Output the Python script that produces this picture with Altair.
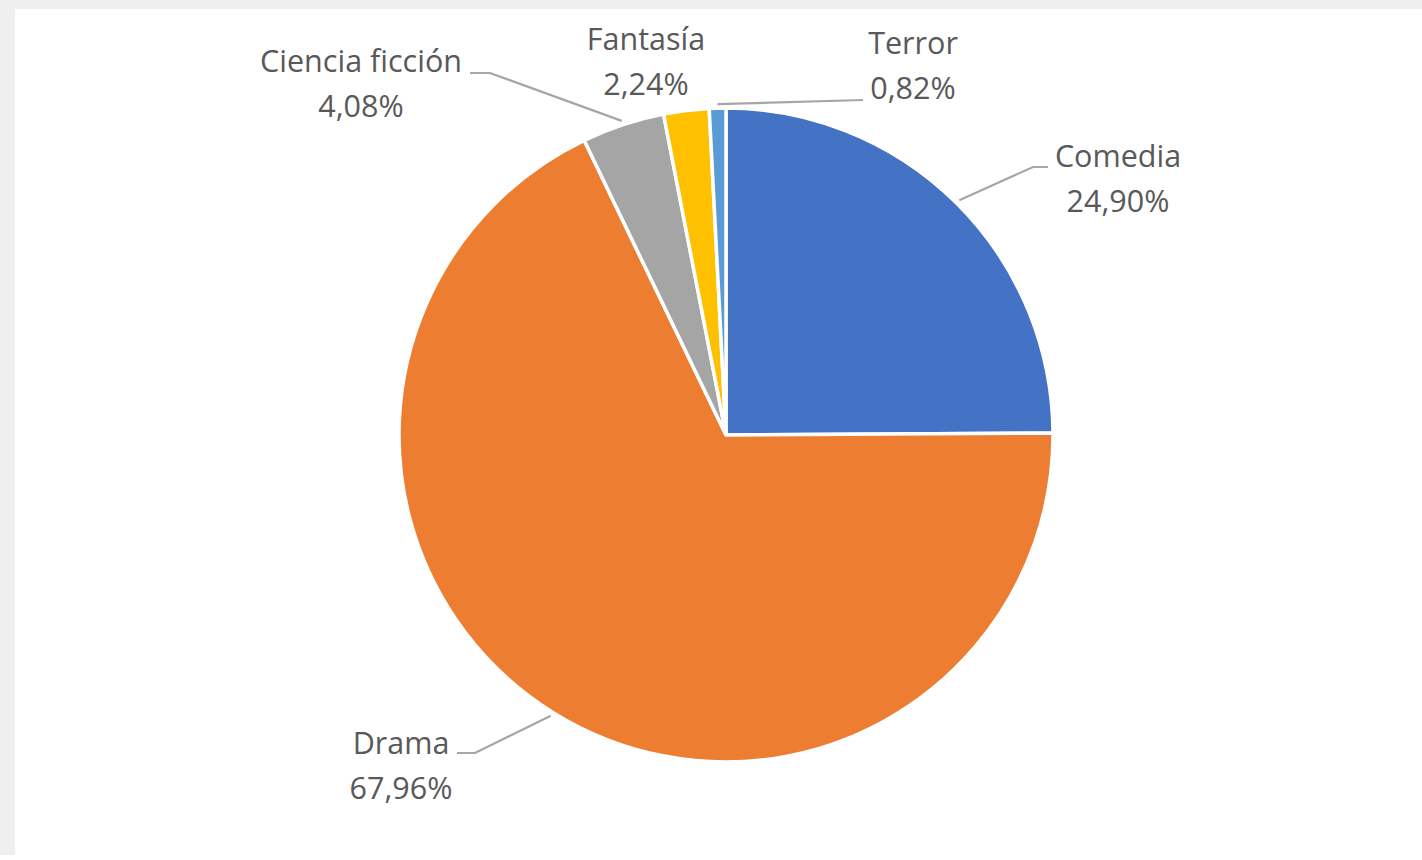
import altair as alt
import pandas as pd

# ---- data ----
GENEROS = ["Comedia", "Drama", "Ciencia ficción", "Fantasía", "Terror"]
PORCENTAJES = [24.90, 67.96, 4.08, 2.24, 0.82]
COLORES = ["#4472C4", "#ED7D31", "#A5A5A5", "#FFC000", "#5B9BD5"]

# ---- label layout (offsets from the pie centre, px) ----
LAB_DX = [392, -325, -365, -80, 187]
LAB_DY = [-255, 332, -350, -372, -368]
ELB_DX = [307, -251, -236, 0, 137]
ELB_DY = [-268, 318, -362, 0, -335]
END_DX = [322, -269, -256, 0, 137]
END_DY = [-268, 318, -362, 0, -335]
GUIA = [1, 1, 1, 0, 1]

W, H = 1407, 846
CX, CY, R = 711, 426, 327
LINE_GAP = 22.5

df = pd.DataFrame({
    "genero": GENEROS, "pct": PORCENTAJES, "orden": list(range(len(GENEROS))),
    "lab_dx": LAB_DX, "lab_dy": LAB_DY, "elb_dx": ELB_DX, "elb_dy": ELB_DY,
    "end_dx": END_DX, "end_dy": END_DY, "guia": GUIA,
})

base = alt.Chart(df)

pie = base.mark_arc(outerRadius=R, stroke="white", strokeWidth=3.5).encode(
    theta=alt.Theta("pct:Q", stack=True),
    color=alt.Color("genero:N", scale=alt.Scale(domain=GENEROS, range=COLORES), legend=None),
    order=alt.Order("orden:Q"),
    x=alt.value(CX), y=alt.value(CY),
)

geo = base.transform_window(
    cum="sum(pct)", sort=[alt.SortField("orden")], frame=[None, 0]
).transform_calculate(
    mid="(datum.cum - datum.pct / 2) / 100 * 2 * PI",
).transform_calculate(
    sx=f"{CX} + {R + 4} * sin(datum.mid)",
    sy=f"{CY} - {R + 4} * cos(datum.mid)",
    lx=f"{CX} + datum.lab_dx",
    ly=f"{CY} + datum.lab_dy",
    etiqueta_pct="replace(format(datum.pct, '.2f'), '.', ',') + '%'",
)

leaders = geo.transform_filter("datum.guia == 1").transform_calculate(
    pts=(f"[{{x: datum.sx, y: datum.sy, k: 0}}, "
         f"{{x: {CX} + datum.elb_dx, y: {CY} + datum.elb_dy, k: 1}}, "
         f"{{x: {CX} + datum.end_dx, y: {CY} + datum.end_dy, k: 2}}]")
).transform_flatten(["pts"]).transform_calculate(
    px="datum.pts.x", py="datum.pts.y", pk="datum.pts.k"
).mark_line(color="#A6A6A6", strokeWidth=2.2).encode(
    x=alt.X("px:Q", scale=None, axis=None),
    y=alt.Y("py:Q", scale=None, axis=None),
    detail="genero:N",
    order="pk:Q",
)

txt_style = dict(font="Open Sans", fontSize=30.5, color="#595959",
                 align="center", baseline="middle")

names = geo.mark_text(dy=-LINE_GAP, **txt_style).encode(
    x=alt.X("lx:Q", scale=None, axis=None),
    y=alt.Y("ly:Q", scale=None, axis=None),
    text="genero:N",
)
values = geo.mark_text(dy=LINE_GAP, **txt_style).encode(
    x=alt.X("lx:Q", scale=None, axis=None),
    y=alt.Y("ly:Q", scale=None, axis=None),
    text="etiqueta_pct:N",
)

chart = alt.layer(pie, leaders, names, values).properties(
    width=W, height=H,
    autosize=alt.AutoSizeParams(type="none"),
    padding={"left": 15, "top": 9, "right": 0, "bottom": 0},
    background="#EFEFEF",
).configure_view(fill="white", stroke=None)

chart.save("out.html", embed_options={"renderer": "svg", "actions": False})
